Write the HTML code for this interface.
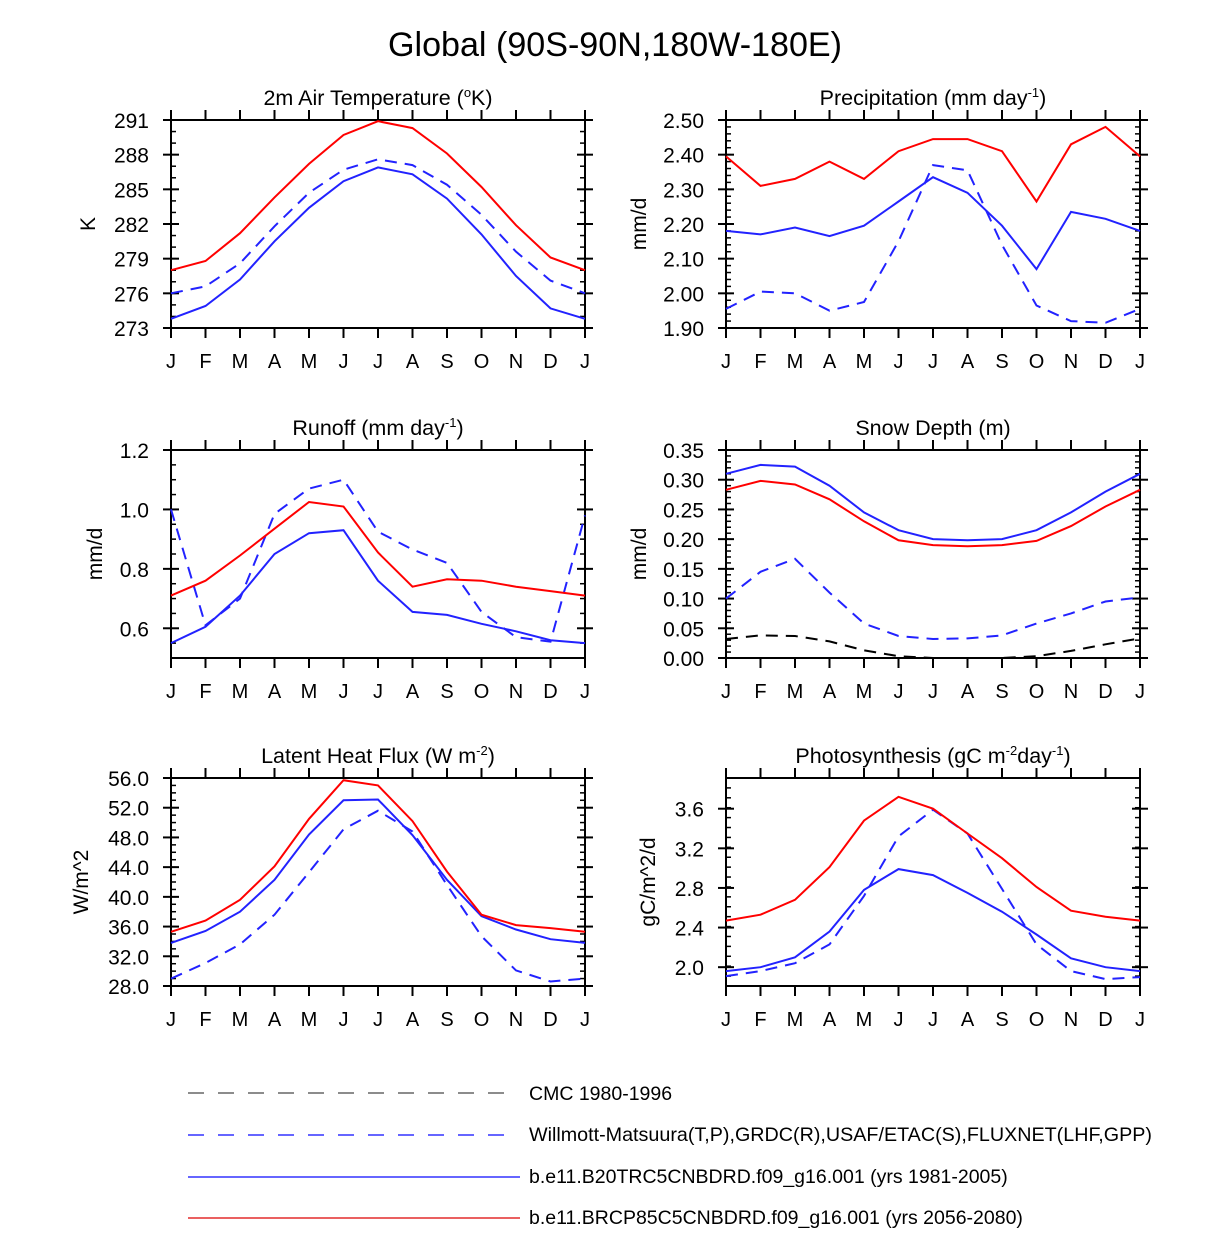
<!DOCTYPE html>
<html><head><meta charset="utf-8"><style>
body{margin:0;background:#fff;font-family:"Liberation Sans",sans-serif}
svg text{font-family:"Liberation Sans",sans-serif}
</style></head><body>
<svg id="c" width="1224" height="1250" xmlns="http://www.w3.org/2000/svg">
<text x="615" y="56" font-size="34" text-anchor="middle" textLength="454" lengthAdjust="spacingAndGlyphs">Global (90S-90N,180W-180E)</text>
<g font-size="19.5">
<line x1="188" y1="1093" x2="510" y2="1093" stroke="#666" stroke-width="1.5" stroke-dasharray="16,14"/>
<text x="529" y="1100">CMC 1980-1996</text>
<line x1="188" y1="1135" x2="510" y2="1135" stroke="#33f" stroke-width="1.5" stroke-dasharray="16,14"/>
<text x="529" y="1141" textLength="623" lengthAdjust="spacingAndGlyphs">Willmott-Matsuura(T,P),GRDC(R),USAF/ETAC(S),FLUXNET(LHF,GPP)</text>
<line x1="188" y1="1177" x2="520" y2="1177" stroke="#33f" stroke-width="1.5"/>
<text x="529" y="1183">b.e11.B20TRC5CNBDRD.f09_g16.001 (yrs 1981-2005)</text>
<line x1="188" y1="1218" x2="520" y2="1218" stroke="#d00" stroke-width="1.2"/>
<text x="529" y="1224">b.e11.BRCP85C5CNBDRD.f09_g16.001 (yrs 2056-2080)</text>
</g>
</svg>
<script>
const months=["J","F","M","A","M","J","J","A","S","O","N","D","J"];
const tempRed=[278.0,278.8,281.2,284.3,287.2,289.7,290.9,290.3,288.1,285.2,281.9,279.1,278.0];
const tempObs=[276.0,276.6,278.6,281.8,284.7,286.7,287.6,287.1,285.4,282.8,279.6,277.1,276.0];
const tempBlue=[273.8,274.9,277.2,280.5,283.4,285.7,286.9,286.3,284.2,281.1,277.5,274.7,273.8];
const tempTicks=["273","276","279","282","285","288","291"];
const precRed=[2.395,2.31,2.33,2.38,2.33,2.41,2.445,2.445,2.41,2.265,2.43,2.48,2.395];
const precBlue=[2.18,2.17,2.19,2.165,2.195,2.265,2.335,2.29,2.195,2.07,2.235,2.215,2.18];
const precObs=[1.955,2.005,2.0,1.95,1.975,2.15,2.37,2.355,2.14,1.965,1.92,1.915,1.955];
const precTicks=["1.90","2.00","2.10","2.20","2.30","2.40","2.50"];
const runRed=[0.71,0.76,0.845,0.935,1.025,1.01,0.855,0.74,0.765,0.76,0.74,0.725,0.71];
const runBlue=[0.55,0.605,0.71,0.85,0.92,0.93,0.76,0.655,0.645,0.615,0.59,0.56,0.55];
const runObs=[1.0,0.61,0.70,0.985,1.07,1.10,0.925,0.865,0.82,0.655,0.57,0.555,0.98];
const runTicks=["0.6","0.8","1.0","1.2"];
const snowBlue=[.31,.325,.322,.29,.245,.215,.20,.198,.20,.215,.245,.28,.31];
const snowRed=[.283,.298,.292,.267,.23,.198,.19,.188,.19,.197,.222,.255,.283];
const snowObs=[.10,.145,.167,.11,.058,.037,.032,.033,.038,.058,.075,.095,.102];
const snowCmc=[.032,.038,.037,.028,.013,.003,0,0,0,.003,.012,.023,.033];
const snowTicks=["0.00","0.05","0.10","0.15","0.20","0.25","0.30","0.35"];
const lhfRed=[35.3,36.8,39.6,44.1,50.5,55.7,55.0,50.2,43.4,37.6,36.2,35.8,35.3];
const lhfBlue=[33.8,35.4,38.0,42.3,48.4,53.0,53.1,48.3,42.3,37.4,35.6,34.3,33.8];
const lhfObs=[29.0,31.1,33.6,37.6,43.3,49.1,51.6,48.8,41.6,34.7,30.1,28.6,29.0];
const lhfTicks=["28.0","32.0","36.0","40.0","44.0","48.0","52.0","56.0"];
const gppRed=[2.47,2.53,2.68,3.01,3.48,3.72,3.60,3.35,3.10,2.81,2.57,2.51,2.47];
const gppBlue=[1.96,2.00,2.10,2.36,2.78,2.99,2.93,2.75,2.56,2.33,2.09,2.00,1.96];
const gppObs=[1.91,1.96,2.04,2.23,2.72,3.32,3.59,3.35,2.79,2.23,1.96,1.88,1.90];
const gppTicks=["2.0","2.4","2.8","3.2","3.6"];

const NS="http://www.w3.org/2000/svg";
const svg=document.getElementById('c');
function mk(tag,attrs,parent){const e=document.createElementNS(NS,tag);for(const k in attrs)e.setAttribute(k,attrs[k]);(parent||svg).appendChild(e);return e;}

function panel(o){
  const g=mk('g',{});
  
  
  const x0=o.x,x1=o.x+414,y0=o.y,y1=o.y+208;
  const xs=i=>x0+(x1-x0)*i/12;
  const ys=v=>y1-(v-o.min)/(o.max-o.min)*(y1-y0);
  const r=mk('rect',{x:x0,y:y0,width:x1-x0,height:y1-y0,fill:'none',stroke:'#000','stroke-width':2},g);
  
  
  months.forEach((m,i)=>{
    const x=xs(i);
    mk('line',{x1:x,x2:x,y1:y1,y2:y1+10,stroke:'#000','stroke-width':2},g);
    mk('line',{x1:x,x2:x,y1:y0-10,y2:y0,stroke:'#000','stroke-width':2},g);
    const t=mk('text',{x:x,y:y1+40,'font-size':20,'text-anchor':'middle'},g);
    t.textContent=m;
    
    
  });
  for(let v=o.min;v<=o.max+1e-9;v+=o.minor){
    const y=ys(v);
    mk('line',{x1:x0,x2:x0+5,y1:y,y2:y,stroke:'#000','stroke-width':1.5},g);
    mk('line',{x1:x1-5,x2:x1,y1:y,y2:y,stroke:'#000','stroke-width':1.5},g);
  }
  o.ticks.forEach(tl=>{
    const y=ys(parseFloat(tl));
    mk('line',{x1:x0-8,x2:x0+8,y1:y,y2:y,stroke:'#000','stroke-width':2},g);
    mk('line',{x1:x1-8,x2:x1+8,y1:y,y2:y,stroke:'#000','stroke-width':2},g);
    const t=mk('text',{x:x0-22,y:y+8,'font-size':21,'text-anchor':'end'},g);
    t.textContent=tl;
    
    
  });
  const tt=mk('text',{x:(x0+x1)/2,y:y0-15,'font-size':21.5,'text-anchor':'middle'},g);
  tt.innerHTML=o.title;
  
  
  const yl=mk('text',{x:0,y:0,'font-size':21,'text-anchor':'middle',transform:`translate(${o.ylx},${(y0+y1)/2}) rotate(-90)`},g);
  yl.textContent=o.ylabel;
  
  
  o.series.forEach(s=>{
    const p=mk('polyline',{points:s.d.map((v,i)=>xs(i).toFixed(1)+','+ys(v).toFixed(1)).join(' '),fill:'none',stroke:s.c,'stroke-width':2,'stroke-dasharray':s.dash?'12,8':'none'},g);
    
    
  });
}
const sup=s=>`<tspan dy="-8" font-size="13">${s}</tspan><tspan dy="8">`;
panel({name:'panel-air-temperature',x:171,y:120,min:273,max:291,minor:1,ticks:tempTicks,ylx:95,ylabel:'K',
 title:'2m Air Temperature ('+sup('o')+'K)</tspan>',
 series:[{n:'obs-line',d:tempObs,c:'#22f',dash:1},{n:'b20-line',d:tempBlue,c:'#22f'},{n:'rcp85-line',d:tempRed,c:'#f00'}]});
panel({name:'panel-precipitation',x:726,y:120,min:1.9,max:2.5,minor:0.02,ticks:precTicks,ylx:646,ylabel:'mm/d',
 title:'Precipitation (mm day'+sup('-1')+')</tspan>',
 series:[{n:'obs-line',d:precObs,c:'#22f',dash:1},{n:'b20-line',d:precBlue,c:'#22f'},{n:'rcp85-line',d:precRed,c:'#f00'}]});
panel({name:'panel-runoff',x:171,y:450,min:0.5,max:1.2,minor:0.05,ticks:runTicks,ylx:102,ylabel:'mm/d',
 title:'Runoff (mm day'+sup('-1')+')</tspan>',
 series:[{n:'obs-line',d:runObs,c:'#22f',dash:1},{n:'b20-line',d:runBlue,c:'#22f'},{n:'rcp85-line',d:runRed,c:'#f00'}]});
panel({name:'panel-snow-depth',x:726,y:450,min:0,max:0.35,minor:0.01,ticks:snowTicks,ylx:646,ylabel:'mm/d',
 title:'Snow Depth (m)',
 series:[{n:'cmc-line',d:snowCmc,c:'#000',dash:1},{n:'obs-line',d:snowObs,c:'#22f',dash:1},{n:'b20-line',d:snowBlue,c:'#22f'},{n:'rcp85-line',d:snowRed,c:'#f00'}]});
panel({name:'panel-latent-heat',x:171,y:778,min:28,max:56,minor:1,ticks:lhfTicks,ylx:88,ylabel:'W/m^2',
 title:'Latent Heat Flux (W m'+sup('-2')+')</tspan>',
 series:[{n:'obs-line',d:lhfObs,c:'#22f',dash:1},{n:'b20-line',d:lhfBlue,c:'#22f'},{n:'rcp85-line',d:lhfRed,c:'#f00'}]});
panel({name:'panel-photosynthesis',x:726,y:778,min:1.81,max:3.91,minor:0.1,ticks:gppTicks,ylx:655,ylabel:'gC/m^2/d',
 title:'Photosynthesis (gC m'+sup('-2')+'day'+sup('-1')+')</tspan></tspan>',
 series:[{n:'obs-line',d:gppObs,c:'#22f',dash:1},{n:'b20-line',d:gppBlue,c:'#22f'},{n:'rcp85-line',d:gppRed,c:'#f00'}]});
</script>
</body></html>
